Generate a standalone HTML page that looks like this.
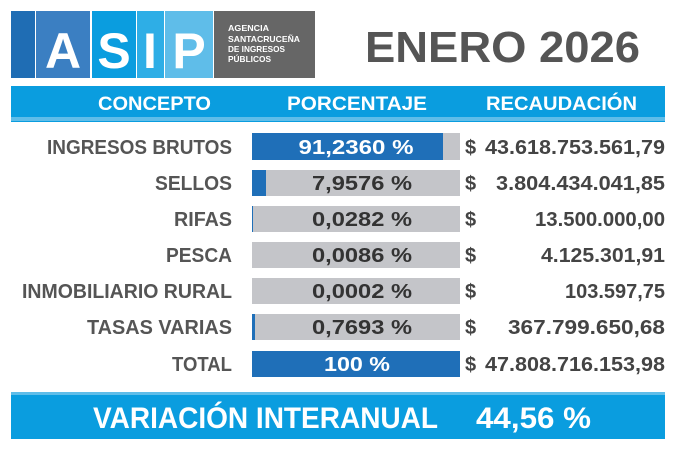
<!DOCTYPE html>
<html><head><meta charset="utf-8"><style>html,body{margin:0;padding:0;background:#fff}svg{display:block}</style></head>
<body>
<svg width="677" height="452" viewBox="0 0 677 452" xmlns="http://www.w3.org/2000/svg" font-family="Liberation Sans, sans-serif" font-weight="bold">
<rect x="11" y="11" width="24" height="67" fill="#1f6db4"/>
<rect x="36" y="11" width="54" height="67" fill="#3b7fc2"/>
<rect x="92" y="11" width="44" height="67" fill="#0a9ddf"/>
<rect x="137" y="11" width="27" height="67" fill="#2eaee6"/>
<rect x="165" y="11" width="48" height="67" fill="#5fbde9"/>
<rect x="214" y="11" width="101" height="67" fill="#666"/>
<text x="63" y="68" fill="#fff" font-size="50" text-anchor="middle">A</text>
<text x="114" y="68" fill="#fff" font-size="50" text-anchor="middle">S</text>
<text x="150" y="68" fill="#fff" font-size="50" text-anchor="middle">I</text>
<text x="189" y="68" fill="#fff" font-size="50" text-anchor="middle">P</text>
<g fill="#fff" font-size="8.5"><text x="228" y="31" textLength="41" lengthAdjust="spacingAndGlyphs">AGENCIA</text><text x="228" y="42" textLength="72" lengthAdjust="spacingAndGlyphs">SANTACRUCEÑA</text><text x="228" y="52" textLength="57" lengthAdjust="spacingAndGlyphs">DE INGRESOS</text><text x="228" y="62" textLength="43" lengthAdjust="spacingAndGlyphs">PÚBLICOS</text></g>
<text x="365" y="62" fill="#555" font-size="44" textLength="275" lengthAdjust="spacingAndGlyphs">ENERO 2026</text>
<rect x="11" y="86" width="654" height="36" fill="#0a9ddf"/>
<rect x="11" y="117" width="654" height="4" fill="#5fbde9"/>
<g fill="#fff" font-size="19">
<text x="98" y="110" textLength="113" lengthAdjust="spacingAndGlyphs">CONCEPTO</text>
<text x="287" y="110" textLength="140" lengthAdjust="spacingAndGlyphs">PORCENTAJE</text>
<text x="486" y="110" textLength="151" lengthAdjust="spacingAndGlyphs">RECAUDACIÓN</text>
</g>
<g font-size="20">
<rect x="252" y="133" width="208" height="27" fill="#c4c5c9"/><rect x="252" y="133" width="191" height="27" fill="#1f6fb8"/>
<text x="232" y="154" fill="#555" text-anchor="end" textLength="185" lengthAdjust="spacingAndGlyphs">INGRESOS BRUTOS</text>
<text x="356" y="154" fill="#fff" text-anchor="middle" textLength="115" lengthAdjust="spacingAndGlyphs">91,2360 %</text>
<text x="465" y="154" fill="#444">$</text><text x="665" y="154" fill="#444" text-anchor="end" textLength="180" lengthAdjust="spacingAndGlyphs">43.618.753.561,79</text>

<rect x="252" y="170" width="208" height="26" fill="#c4c5c9"/><rect x="252" y="170" width="14" height="26" fill="#1f6fb8"/>
<text x="232" y="190" fill="#555" text-anchor="end" textLength="77" lengthAdjust="spacingAndGlyphs">SELLOS</text>
<text x="362" y="190" fill="#333" text-anchor="middle" textLength="100" lengthAdjust="spacingAndGlyphs">7,9576 %</text>
<text x="465" y="190" fill="#444">$</text><text x="665" y="190" fill="#444" text-anchor="end" textLength="169" lengthAdjust="spacingAndGlyphs">3.804.434.041,85</text>

<rect x="252" y="206" width="208" height="26" fill="#c4c5c9"/><rect x="252" y="206" width="1" height="26" fill="#1f6fb8"/>
<text x="232" y="226" fill="#555" text-anchor="end" textLength="58" lengthAdjust="spacingAndGlyphs">RIFAS</text>
<text x="362" y="226" fill="#333" text-anchor="middle" textLength="100" lengthAdjust="spacingAndGlyphs">0,0282 %</text>
<text x="465" y="226" fill="#444">$</text><text x="665" y="226" fill="#444" text-anchor="end" textLength="130" lengthAdjust="spacingAndGlyphs">13.500.000,00</text>

<rect x="252" y="242" width="208" height="26" fill="#c4c5c9"/>
<text x="232" y="262" fill="#555" text-anchor="end" textLength="66" lengthAdjust="spacingAndGlyphs">PESCA</text>
<text x="362" y="262" fill="#333" text-anchor="middle" textLength="100" lengthAdjust="spacingAndGlyphs">0,0086 %</text>
<text x="465" y="262" fill="#444">$</text><text x="665" y="262" fill="#444" text-anchor="end" textLength="124" lengthAdjust="spacingAndGlyphs">4.125.301,91</text>

<rect x="252" y="278" width="208" height="26" fill="#c4c5c9"/>
<text x="232" y="298" fill="#555" text-anchor="end" textLength="210" lengthAdjust="spacingAndGlyphs">INMOBILIARIO RURAL</text>
<text x="362" y="298" fill="#333" text-anchor="middle" textLength="100" lengthAdjust="spacingAndGlyphs">0,0002 %</text>
<text x="465" y="298" fill="#444">$</text><text x="665" y="298" fill="#444" text-anchor="end" textLength="100" lengthAdjust="spacingAndGlyphs">103.597,75</text>

<rect x="252" y="314" width="208" height="26" fill="#c4c5c9"/><rect x="252" y="314" width="3" height="26" fill="#1f6fb8"/>
<text x="232" y="334" fill="#555" text-anchor="end" textLength="145" lengthAdjust="spacingAndGlyphs">TASAS VARIAS</text>
<text x="362" y="334" fill="#333" text-anchor="middle" textLength="100" lengthAdjust="spacingAndGlyphs">0,7693 %</text>
<text x="465" y="334" fill="#444">$</text><text x="665" y="334" fill="#444" text-anchor="end" textLength="157" lengthAdjust="spacingAndGlyphs">367.799.650,68</text>

<rect x="252" y="351" width="208" height="26" fill="#1f6fb8"/>
<text x="232" y="371" fill="#555" text-anchor="end" textLength="60" lengthAdjust="spacingAndGlyphs">TOTAL</text>
<text x="357" y="371" fill="#fff" text-anchor="middle" textLength="66" lengthAdjust="spacingAndGlyphs">100 %</text>
<text x="465" y="371" fill="#444">$</text><text x="665" y="371" fill="#444" text-anchor="end" textLength="180" lengthAdjust="spacingAndGlyphs">47.808.716.153,98</text>
</g>
<rect x="11" y="392" width="654" height="47" fill="#0a9ddf"/>
<rect x="11" y="392" width="654" height="3" fill="#5fbde9"/>
<text x="93" y="428" fill="#fff" font-size="30" textLength="345" lengthAdjust="spacingAndGlyphs">VARIACIÓN INTERANUAL</text>
<text x="476" y="428" fill="#fff" font-size="30" textLength="115" lengthAdjust="spacingAndGlyphs">44,56 %</text>
</svg>
</body></html>
